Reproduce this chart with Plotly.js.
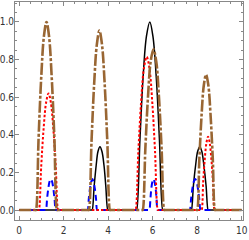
<!DOCTYPE html>
<html>
<head>
<meta charset="utf-8">
<script src="https://cdn.plot.ly/plotly-3.0.1.min.js"></script>
<style>html,body{margin:0;padding:0;background:#fff;}#chart{width:249px;height:240px;}</style>
</head>
<body>
<div id="chart"></div>
<script>
// Series values
const blackX = [0, 3.26, 3.28, 3.37, 3.46, 3.54, 3.63, 3.72, 3.81, 3.89, 3.98, 4.00,
  5.26, 5.28, 5.43, 5.57, 5.72, 5.87, 6.01, 6.16, 6.30, 6.45, 6.47,
  7.72, 7.74, 7.83, 7.93, 8.02, 8.12, 8.21, 8.30, 8.40, 8.49, 8.51, 10];
const blackY = [0, 0, 0, 0.129, 0.238, 0.311, 0.337, 0.311, 0.238, 0.129, 0, 0,
  0, 0, 0.383, 0.707, 0.924, 1.0, 0.924, 0.707, 0.383, 0, 0,
  0, 0, 0.129, 0.238, 0.311, 0.337, 0.311, 0.238, 0.129, 0, 0, 0];

const redX = [0, 0.86, 0.88, 0.99, 1.10, 1.21, 1.32, 1.42, 1.53, 1.64, 1.75, 1.77,
  5.21, 5.23, 5.355, 5.48, 5.605, 5.73, 5.855, 5.98, 6.105, 6.23, 6.25,
  8.18, 8.20, 8.27, 8.345, 8.42, 8.49, 8.56, 8.635, 8.71, 8.78, 8.80, 10];
const redY = [0, 0, 0, 0.237, 0.438, 0.573, 0.62, 0.573, 0.438, 0.237, 0, 0,
  0, 0, 0.312, 0.576, 0.753, 0.815, 0.753, 0.576, 0.312, 0, 0,
  0, 0, 0.149, 0.276, 0.36, 0.39, 0.36, 0.276, 0.149, 0, 0, 0];

const blueX = [0, 1.18, 1.20, 1.255, 1.31, 1.365, 1.42, 1.475, 1.53, 1.585, 1.64, 1.66,
  3.06, 3.08, 3.13, 3.185, 3.24, 3.29, 3.34, 3.395, 3.45, 3.50, 3.52,
  5.83, 5.85, 5.90, 5.94, 5.99, 6.035, 6.08, 6.13, 6.17, 6.22, 6.24,
  7.65, 7.67, 7.73, 7.79, 7.85, 7.91, 7.97, 8.03, 8.09, 8.15, 8.17, 10];
const blueY = [0, 0, 0, 0.063, 0.117, 0.152, 0.165, 0.152, 0.117, 0.063, 0, 0,
  0, 0, 0.063, 0.117, 0.152, 0.165, 0.152, 0.117, 0.063, 0, 0,
  0, 0, 0.063, 0.117, 0.152, 0.165, 0.152, 0.117, 0.063, 0, 0,
  0, 0, 0.063, 0.117, 0.152, 0.165, 0.152, 0.117, 0.063, 0, 0, 0];

const brownX = [0, 0.73, 0.75, 0.87, 0.99, 1.11, 1.225, 1.34, 1.46, 1.58, 1.70, 1.72,
  3.11, 3.13, 3.25, 3.37, 3.49, 3.605, 3.72, 3.84, 3.96, 4.08, 4.10,
  5.53, 5.55, 5.67, 5.79, 5.91, 6.035, 6.16, 6.28, 6.40, 6.52, 6.54,
  7.98, 8.00, 8.10, 8.20, 8.30, 8.40, 8.50, 8.60, 8.70, 8.80, 8.82, 10];
const brownY = [0, 0, 0, 0.383, 0.707, 0.924, 1.0, 0.924, 0.707, 0.383, 0, 0,
  0, 0, 0.365, 0.674, 0.881, 0.954, 0.881, 0.674, 0.365, 0, 0,
  0, 0, 0.327, 0.604, 0.79, 0.855, 0.79, 0.604, 0.327, 0, 0,
  0, 0, 0.276, 0.509, 0.665, 0.72, 0.665, 0.509, 0.276, 0, 0, 0];

const xTickVals = [0, 2, 4, 6, 8, 10];
const xTickText = ["0", "2", "4", "6", "8", "10"];
const yTickVals = [0, 0.2, 0.4, 0.6, 0.8, 1.0];
const yTickText = ["0.0", "0.2", "0.4", "0.6", "0.8", "1.0"];

function tr(x, y, color, width, dash) {
  return {x: x, y: y, type: 'scatter', mode: 'lines',
    line: {color: color, width: width, dash: dash, shape: 'spline', smoothing: 1},
    hoverinfo: 'skip', showlegend: false};
}

const data = [
  tr(blackX, blackY, '#000000', 1.5, 'solid'),
  tr(blueX, blueY, '#0000ff', 2, '6px,4px'),
  tr(redX, redY, '#ff0000', 2, '2.5px,2px'),
  tr(brownX, brownY, '#996633', 2.6, '12px,2px,3px,2px')
];

const tickFont = {family: '"DejaVu Sans Condensed", "Liberation Sans Narrow", sans-serif', size: 10, color: '#333'};
const frameColor = '#888';

const layout = {
  width: 249, height: 240,
  margin: {l: 15, r: 6, t: 2, b: 20, pad: 0},
  paper_bgcolor: '#fff', plot_bgcolor: '#fff',
  showlegend: false,
  xaxis: {
    range: [-0.19, 10.06], showgrid: false, zeroline: false,
    showline: true, linecolor: frameColor, linewidth: 1, mirror: 'allticks',
    ticks: 'inside', ticklen: 4, tickwidth: 1, tickcolor: frameColor,
    tickvals: xTickVals, ticktext: xTickText, tickfont: tickFont,
    ticklabelstandoff: 1,
    minor: {dtick: 0.5, tick0: 0, ticks: 'inside', ticklen: 2, tickcolor: frameColor, showgrid: false}
  },
  yaxis: {
    range: [-0.053, 1.106], showgrid: false, zeroline: false,
    showline: true, linecolor: frameColor, linewidth: 1, mirror: 'allticks',
    ticks: 'inside', ticklen: 4, tickwidth: 1, tickcolor: frameColor,
    tickvals: yTickVals, ticktext: yTickText, tickfont: tickFont,
    ticklabelstandoff: -2,
    minor: {dtick: 0.05, tick0: 0, ticks: 'inside', ticklen: 2, tickcolor: frameColor, showgrid: false}
  }
};

Plotly.newPlot('chart', data, layout, {staticPlot: true, displayModeBar: false});
</script>
</body>
</html>
